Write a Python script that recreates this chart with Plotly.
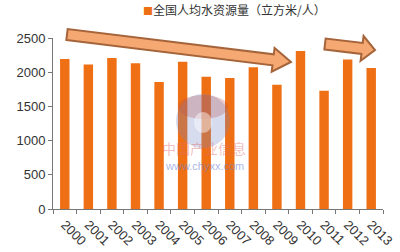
import math
import plotly.graph_objects as go

years = ["2000", "2001", "2002", "2003", "2004", "2005", "2006",
         "2007", "2008", "2009", "2010", "2011", "2012", "2013"]
water_per_capita = [2193.9, 2112.5, 2207.2, 2131.3, 1856.3, 2151.8, 1932.1,
                    1916.3, 2071.1, 1816.2, 2310.4, 1730.2, 2186.1, 2059.7]
series_name = "全国人均水资源量（立方米/人）"
y_ticks = [0, 500, 1000, 1500, 2000, 2500]
bar_color = "#EE6F14"

W, H = 400, 252
L, R, T, B = 53, 17, 38, 43
pw, ph = W - L - R, H - T - B

def px2paper(x, y):
    return (x - L) / pw, (H - B - y) / ph

def arrow_path(tail, tip, shaft_hw, head_len, head_hw):
    dx, dy = tip[0] - tail[0], tip[1] - tail[1]
    d = math.hypot(dx, dy)
    ux, uy = dx / d, dy / d
    nx, ny = -uy, ux
    bx, by = tip[0] - ux * head_len, tip[1] - uy * head_len
    pts = [
        (tail[0] + nx * shaft_hw, tail[1] + ny * shaft_hw),
        (bx + nx * shaft_hw, by + ny * shaft_hw),
        (bx + nx * head_hw, by + ny * head_hw),
        tip,
        (bx - nx * head_hw, by - ny * head_hw),
        (bx - nx * shaft_hw, by - ny * shaft_hw),
        (tail[0] - nx * shaft_hw, tail[1] - ny * shaft_hw),
    ]
    pp = [px2paper(*p) for p in pts]
    return "M " + " L ".join(f"{a:.4f},{b:.4f}" for a, b in pp) + " Z"

fig = go.Figure()
fig.add_trace(go.Bar(
    x=years, y=water_per_capita, name=series_name,
    marker=dict(color=bar_color, line=dict(width=0)),
    showlegend=False,
))

shapes = []
# watermark logo (faint)
cx, cy, r = 203, 121, 27
x0, y0 = px2paper(cx - r, cy + r)
x1, y1 = px2paper(cx + r, cy - r)
shapes.append(dict(type="circle", xref="paper", yref="paper", x0=x0, y0=y0, x1=x1, y1=y1,
                   fillcolor="rgba(120,135,200,0.3)", line=dict(width=0), layer="above"))
x0, y0 = px2paper(cx - r + 2, cy - 2)
x1, y1 = px2paper(cx + r - 2, cy - r + 1)
shapes.append(dict(type="circle", xref="paper", yref="paper", x0=x0, y0=y0, x1=x1, y1=y1,
                   fillcolor="rgba(180,80,80,0.28)", line=dict(width=0), layer="above"))
x0, y0 = px2paper(cx - 9, cy + 12)
x1, y1 = px2paper(cx + 9, cy - 9)
shapes.append(dict(type="circle", xref="paper", yref="paper", x0=x0, y0=y0, x1=x1, y1=y1,
                   fillcolor="rgba(255,255,255,0.45)", line=dict(width=0), layer="above"))

# trend arrows
for tail, tip, hl, hw in [((67, 34.5), (291, 62), 18, 12), ((325, 44), (375, 50), 13, 12.5)]:
    shapes.append(dict(type="path", xref="paper", yref="paper",
                       path=arrow_path(tail, tip, 5.5, hl, hw),
                       fillcolor="#F5A872", line=dict(color="#A5643A", width=2),
                       layer="above"))

annotations = []
ax, ay = px2paper(204, 160)
annotations.append(dict(xref="paper", yref="paper", x=ax, y=ay, text="中国产业信息",
                        showarrow=False, font=dict(family="Noto Sans CJK SC", size=14,
                                                   color="rgba(225,110,110,0.45)")))
ax, ay = px2paper(204, 174)
annotations.append(dict(xref="paper", yref="paper", x=ax, y=ay, text="www.chyxx.com",
                        showarrow=False, font=dict(family="Liberation Sans", size=11,
                                                   color="rgba(110,130,210,0.6)")))
# legend
lx, ly = px2paper(141, 9)
annotations.append(dict(xref="paper", yref="paper", x=lx, y=ly, xanchor="left",
                        yanchor="middle", showarrow=False,
                        text=f"<span style='color:{bar_color};font-size:10px'>■</span>{series_name}",
                        font=dict(family="Noto Sans CJK SC", size=12, color="#333333")))

fig.update_layout(
    width=W, height=H,
    margin=dict(l=L, r=R, t=T, b=B, autoexpand=False),
    paper_bgcolor="white", plot_bgcolor="white",
    bargap=0.6,
    font=dict(family="Liberation Sans", color="#333333"),
    xaxis=dict(type="category", showline=True, linecolor="#777777", linewidth=1,
               ticks="outside", tickson="boundaries", ticklen=4, tickcolor="#777777",
               tickangle=45, tickfont=dict(size=13, color="#333333"),
               ticklabelstandoff=2,
               showgrid=False, automargin=False),
    yaxis=dict(range=[0, 2500], tickvals=y_ticks, showline=True, linecolor="#777777",
               linewidth=1, ticks="outside", ticklen=4, tickcolor="#777777",
               tickfont=dict(size=13, color="#333333"), showgrid=False, zeroline=False,
               automargin=False),
    shapes=shapes, annotations=annotations,
)
fig.write_html("out.html")
